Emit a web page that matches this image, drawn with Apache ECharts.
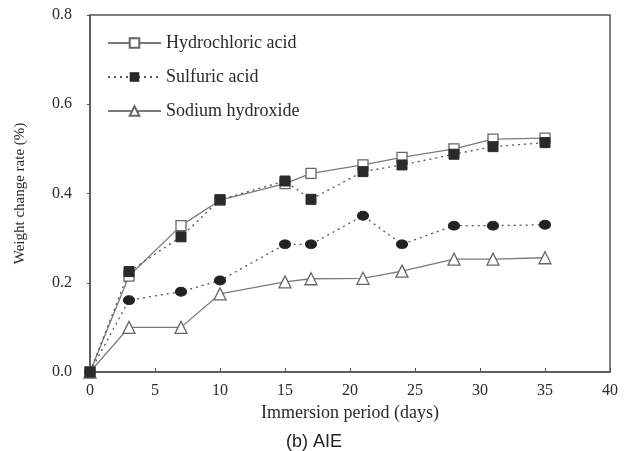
<!DOCTYPE html>
<html><head><meta charset="utf-8">
<script src="https://cdn.jsdelivr.net/npm/echarts@6/dist/echarts.min.js"></script>
<style>html,body{margin:0;padding:0;background:#fff}#c{width:629px;height:451px}</style>
</head><body><div id="c"></div>
<script>
const days = [0, 3, 7, 10, 15, 17, 21, 24, 28, 31, 35];
const hydrochloric = [0, 0.215, 0.328, 0.385, 0.422, 0.445, 0.464, 0.481, 0.500, 0.522, 0.524];
const sulfuric = [0, 0.225, 0.303, 0.386, 0.428, 0.387, 0.449, 0.464, 0.488, 0.505, 0.514];
const circles = [0, 0.161, 0.180, 0.205, 0.286, 0.286, 0.350, 0.286, 0.328, 0.328, 0.330];
const sodium = [0, 0.100, 0.100, 0.175, 0.202, 0.209, 0.210, 0.226, 0.253, 0.253, 0.256];
const xTicks = [0, 5, 10, 15, 20, 25, 30, 35, 40];
const yTicks = [0.0, 0.2, 0.4, 0.6, 0.8];

const pair = arr => days.map((d, i) => [d, arr[i]]);
const lineC = '#7a7a7a';
const serif = 'Liberation Serif';
const txt = '#2a2a2a';
const chart = echarts.init(document.getElementById('c'));
chart.setOption({
  animation: false,
  grid: { left: 90, right: 19, top: 15, bottom: 79, show: true, borderColor: '#555', borderWidth: 1.5, backgroundColor: 'transparent' },
  title: { text: '(b) AIE', left: 309, textAlign: 'center', top: 428, textStyle: { fontFamily: 'Liberation Sans', fontSize: 18, fontWeight: 'normal', color: '#222' } },
  legend: {
    data: ['Hydrochloric acid', 'Sulfuric acid', 'Sodium hydroxide'],
    orient: 'vertical', left: 107, top: 34, padding: 0, itemGap: 16, itemWidth: 53, itemHeight: 12,
    textStyle: { fontFamily: serif, fontSize: 18, color: txt }
  },
  xAxis: {
    type: 'value', min: 0, max: 40, interval: 5,
    name: 'Immersion period (days)', nameLocation: 'middle', nameGap: 30,
    nameTextStyle: { fontFamily: serif, fontSize: 18, color: txt },
    axisLine: { show: true, lineStyle: { color: '#555', width: 1.5 } },
    axisTick: { show: true, inside: true, length: 4, lineStyle: { color: '#555' } },
    axisLabel: { fontFamily: serif, fontSize: 16, color: txt, margin: 11, formatter: v => xTicks.includes(v) ? String(v) : '' },
    splitLine: { show: false }
  },
  yAxis: {
    type: 'value', min: 0, max: 0.8, interval: 0.2,
    name: 'Weight change rate (%)', nameLocation: 'middle', nameGap: 62,
    nameTextStyle: { fontFamily: serif, fontSize: 15, color: txt },
    axisLine: { show: true, lineStyle: { color: '#555', width: 1.5 } },
    axisTick: { show: true, inside: false, length: 3, lineStyle: { color: '#555' } },
    axisLabel: { fontFamily: serif, fontSize: 16, color: txt, margin: 18, formatter: v => yTicks.find(t => Math.abs(t - v) < 1e-9).toFixed(1) },
    splitLine: { show: false }
  },
  series: [
    { name: 'Sodium hydroxide', type: 'line', data: pair(sodium), symbol: 'triangle', symbolSize: 12,
      lineStyle: { color: lineC, width: 1.3 }, itemStyle: { color: '#fff', borderColor: '#666', borderWidth: 1.3 } },
    { name: 'Circles', type: 'line', data: pair(circles), symbol: 'circle', symbolSize: [11, 9],
      lineStyle: { color: '#555', width: 1.3, type: [2, 4] }, itemStyle: { color: '#222', borderColor: '#222' } },
    { name: 'Hydrochloric acid', type: 'line', data: pair(hydrochloric), symbol: 'rect', symbolSize: 10,
      lineStyle: { color: lineC, width: 1.3 }, itemStyle: { color: '#fff', borderColor: '#666', borderWidth: 1.3 } },
    { name: 'Sulfuric acid', type: 'line', data: pair(sulfuric), symbol: 'rect', symbolSize: 10,
      lineStyle: { color: '#555', width: 1.3, type: [2, 4] }, itemStyle: { color: '#2a2a2a', borderColor: '#2a2a2a' } }
  ]
});
</script></body></html>
